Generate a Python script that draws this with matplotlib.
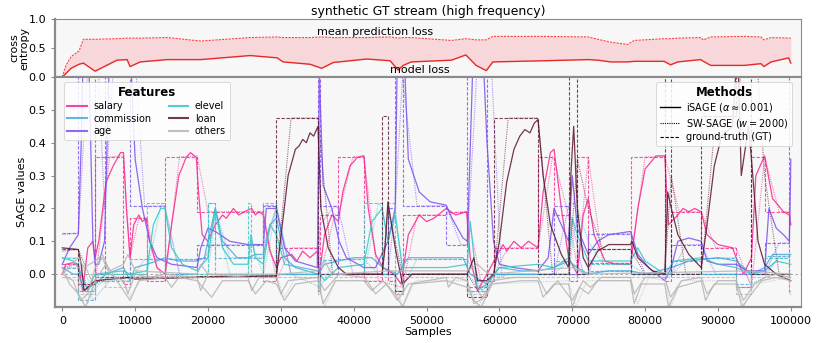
import matplotlib
matplotlib.use("Agg")
import matplotlib.pyplot as plt
from matplotlib.lines import Line2D

# ---------------- data ----------------
title = "synthetic GT stream (high frequency)"
features = ["salary", "commission", "age", "elevel", "loan", "others"]
feature_colors = {"salary": "#f7268f", "commission": "#4aa8dc", "age": "#7c4ff0",
                  "elevel": "#33c6c6", "loan": "#5a1530", "others": "#b5b5b5"}

# top panel losses
loss_x = [0, 500, 1200, 2300, 2900, 4500, 7500, 8900, 9300, 10700, 14400, 19000, 25800, 29500, 30300,
          34000, 35600, 37200, 41800, 45000, 46100, 46800, 47900, 53400, 55400, 56800, 58200, 59100,
          66100, 72200, 73500, 75300, 77600, 78500, 82600, 83500, 84500, 87600, 88000, 89000, 93600,
          95900, 96300, 97300, 99700, 100000]
mean_loss = [0.0, 0.2, 0.35, 0.45, 0.65, 0.65, 0.66, 0.67, 0.67, 0.67, 0.68, 0.62, 0.68, 0.69, 0.68,
             0.68, 0.69, 0.68, 0.68, 0.69, 0.67, 0.68, 0.68, 0.63, 0.66, 0.64, 0.64, 0.7, 0.7, 0.69,
             0.65, 0.6, 0.56, 0.63, 0.66, 0.66, 0.67, 0.68, 0.64, 0.69, 0.7, 0.69, 0.64, 0.68, 0.67, 0.67]
model_loss = [0.0, 0.06, 0.15, 0.22, 0.24, 0.1, 0.29, 0.3, 0.18, 0.26, 0.3, 0.3, 0.37, 0.33, 0.26,
              0.22, 0.15, 0.25, 0.31, 0.28, 0.12, 0.2, 0.26, 0.29, 0.38, 0.2, 0.11, 0.26, 0.28, 0.3,
              0.29, 0.26, 0.26, 0.27, 0.27, 0.21, 0.26, 0.3, 0.27, 0.2, 0.2, 0.23, 0.18, 0.26, 0.33, 0.24]

# ground truth: segment boundaries and per-segment values
gt_bounds = [0, 2200, 4500, 5800, 8400, 9300, 11600, 14100, 18500, 20000, 21000, 25500, 25900, 27600,
             29400, 35100, 35400, 37900, 41400, 43900, 44700, 45700, 46700, 52700, 55600, 58300, 59200,
             65300, 67500, 69500, 70700, 72200, 78000, 82700, 83600, 87700, 92500, 94600, 96400, 99800, 100000]
gt_salary = [0.03, -0.05, 0.357, 0.357, -0.03, 0.17, -0.02, 0.357, 0.19, 0.19, 0.19, 0.19, 0.19, -0.02,
             0.08, -0.05, 0.18, 0.357, -0.02, 0.0, -0.02, -0.06, 0.18, 0.19, -0.04, -0.02, 0.08, 0.357,
             0.18, -0.02, 0.357, 0.033, 0.357, -0.02, 0.19, 0.08, -0.04, 0.357, 0.19, -0.05]
gt_age = [0.125, 0.9, 0.0, 0.9, 0.9, 0.207, 0.207, 0.0, 0.09, 0.09, 0.088, 0.088, 0.088, 0.207, 0.0,
          0.9, 0.208, 0.0, 0.0, 0.0, 0.2, 0.9, 0.208, 0.09, 0.9, 0.0, 0.0, 0.0, 0.208, 0.0, 0.0, 0.123,
          0.0, 0.0, 0.09, 0.0, 0.0, 0.0, 0.095, 0.9]
gt_commission = [0.02, -0.08, -0.02, -0.02, -0.02, 0.045, 0.045, 0.045, 0.05, 0.215, 0.05, 0.05, 0.05,
                 0.21, 0.0, -0.05, 0.044, 0.045, 0.0, 0.0, 0.0, -0.05, 0.045, 0.045, -0.05, 0.0, 0.0, 0.0,
                 0.04, 0.0, 0.0, 0.01, 0.0, 0.0, 0.04, 0.05, -0.03, 0.0, 0.055, 0.0]
gt_elevel = [0.05, -0.05, 0.0, 0.0, 0.0, 0.0, 0.215, 0.0, 0.0, 0.215, 0.0, 0.215, 0.0, 0.215, 0.0,
             -0.05, 0.0, 0.0, 0.216, 0.0, 0.216, -0.05, 0.0, 0.0, -0.05, 0.0, 0.0, 0.0, 0.0, 0.216, 0.0,
             0.03, 0.0, 0.0, 0.0, 0.0, -0.04, 0.0, 0.05, 0.0]
gt_loan = [0.075, -0.03, -0.01, -0.01, -0.01, -0.01, -0.01, -0.01, -0.005, -0.005, -0.005, -0.005,
           -0.005, -0.005, 0.475, -0.02, 0.0, 0.0, 0.0, 0.48, 0.0, -0.05, 0.0, 0.0, -0.07, 0.0, 0.475,
           0.0, 0.0, 0.9, 0.0, 0.075, 0.0, 0.9, 0.0, 0.48, 0.9, 0.0, 0.0, 0.0]
gt_others = [-0.01, -0.06, -0.01, -0.04, -0.04, -0.01, -0.01, -0.01, -0.01, -0.01, -0.01, -0.01, -0.01,
             -0.01, -0.01, -0.06, -0.01, -0.01, -0.01, -0.01, -0.01, -0.06, -0.01, -0.01, -0.06, -0.01,
             -0.01, -0.01, -0.01, -0.01, -0.01, -0.01, -0.01, -0.01, -0.01, -0.01, -0.06, -0.01, -0.01, -0.06]

# iSAGE estimates (sample, value)
isage_salary = [(0, 0.0), (500, 0.03), (1500, 0.035), (2200, 0.03), (2800, -0.05), (3500, 0.08), (4200, 0.1),
                (4500, 0.05), (5000, 0.1), (6000, 0.28), (7000, 0.33), (8000, 0.37), (8400, 0.37), (8800, 0.2),
                (9300, 0.05), (9800, 0.15), (10500, 0.18), (11000, 0.16), (11500, 0.17), (12000, 0.1),
                (13000, 0.02), (14100, 0.0), (15000, 0.15), (16000, 0.3), (17000, 0.355), (17600, 0.37),
                (18400, 0.355), (18700, 0.25), (19200, 0.12), (20000, 0.1), (21000, 0.15), (22000, 0.18),
                (22500, 0.17), (23500, 0.2), (24200, 0.18), (25000, 0.19), (26000, 0.2), (26500, 0.18),
                (27000, 0.19), (27600, 0.18), (28500, 0.07), (29400, 0.02), (30000, 0.05), (31500, 0.06),
                (32200, 0.04), (33000, 0.07), (34000, 0.05), (35000, 0.07), (35300, 0.0), (36000, 0.12),
                (37000, 0.18), (37900, 0.16), (38500, 0.25), (39500, 0.33), (40500, 0.355), (41400, 0.36),
                (42000, 0.2), (43000, 0.06), (44000, 0.02), (45500, 0.0), (46500, -0.03), (47500, 0.12),
                (49000, 0.18), (50000, 0.16), (51000, 0.17), (52700, 0.2), (54000, 0.18), (55500, 0.19),
                (56000, 0.05), (57000, -0.05), (58300, 0.0), (59500, 0.05), (60500, 0.09), (61000, 0.07),
                (62000, 0.1), (63000, 0.08), (64000, 0.1), (65300, 0.08), (66000, 0.25), (67000, 0.37),
                (67500, 0.38), (68500, 0.2), (69500, 0.05), (70700, 0.0), (71500, 0.18), (72200, 0.23),
                (73000, 0.12), (74500, 0.04), (76000, 0.03), (78000, 0.03), (79000, 0.2), (80000, 0.32),
                (81500, 0.36), (82700, 0.36), (83200, 0.15), (84500, 0.18), (85200, 0.2), (86000, 0.19),
                (86800, 0.2), (87700, 0.19), (88500, 0.12), (90000, 0.09), (92000, 0.08), (92500, 0.05),
                (93500, 0.0), (94600, 0.05), (95200, 0.3), (96400, 0.36), (97500, 0.23), (99000, 0.19),
                (99800, 0.18), (100000, 0.15)]
isage_age = [(0, 0.03), (1000, 0.08), (2200, 0.12), (2600, 0.4), (3000, 0.8), (3600, 0.7), (4200, 0.1),
             (4500, 0.03), (5000, 0.03), (5800, 0.1), (6500, 0.7), (8400, 0.8), (9300, 0.7), (10000, 0.35),
             (11000, 0.2), (12000, 0.1), (13000, 0.05), (14000, 0.04), (15000, 0.03), (18500, 0.02),
             (19000, 0.08), (20000, 0.14), (21000, 0.13), (23000, 0.1), (25500, 0.09), (27600, 0.09),
             (28000, 0.2), (29400, 0.2), (30500, 0.08), (32000, 0.04), (35000, 0.02), (35300, 0.6),
             (35800, 0.27), (37000, 0.2), (38000, 0.1), (39000, 0.05), (41400, 0.02), (43000, 0.02),
             (44700, 0.1), (45700, 0.2), (46000, 0.7), (46700, 0.8), (47500, 0.35), (49000, 0.25),
             (50500, 0.22), (52700, 0.21), (53500, 0.17), (55000, 0.11), (55600, 0.1), (56300, 0.6),
             (57500, 0.8), (58300, 0.4), (59200, 0.1), (60000, 0.03), (62000, 0.02), (65300, 0.01),
             (66700, 0.05), (67500, 0.2), (69500, 0.1), (70000, 0.3), (70700, 0.14), (72200, 0.06),
             (73500, 0.1), (75000, 0.12), (78000, 0.13), (79000, 0.06), (80500, 0.02), (82700, -0.02),
             (83600, 0.02), (84500, 0.1), (86000, 0.11), (87700, 0.1), (88500, 0.04), (90000, 0.03),
             (92500, 0.03), (94000, 0.01), (96400, 0.01), (97000, 0.2), (98000, 0.14), (99000, 0.12),
             (99800, 0.1), (100000, 0.35)]
isage_commission = [(0, 0.02), (1500, 0.0), (2200, 0.0), (3000, -0.05), (4500, -0.03), (6000, 0.0),
                    (8400, 0.02), (9300, -0.02), (10000, 0.02), (11600, 0.03), (13000, 0.04), (14100, 0.05),
                    (16000, 0.04), (18500, 0.04), (19500, 0.05), (20500, 0.15), (21000, 0.2), (22000, 0.1),
                    (24000, 0.05), (25500, 0.05), (26500, 0.06), (27600, 0.06), (28500, 0.15), (29400, 0.17),
                    (30500, 0.05), (32000, 0.02), (35100, 0.0), (36000, 0.03), (37900, 0.04), (40000, 0.05),
                    (41400, 0.05), (42500, 0.05), (44000, 0.02), (46000, 0.0), (47500, 0.05), (50000, 0.05),
                    (52700, 0.05), (55000, 0.05), (56000, 0.0), (58300, -0.03), (60000, 0.02), (63000, 0.01),
                    (65300, 0.01), (67500, 0.02), (69500, 0.04), (70700, 0.02), (72200, 0.0), (75000, 0.01),
                    (78000, 0.01), (80000, 0.0), (83600, 0.02), (86000, 0.04), (88000, 0.045), (90000, 0.05),
                    (92500, 0.04), (94600, 0.0), (96400, 0.02), (97500, 0.06), (100000, 0.06)]
isage_elevel = [(0, 0.05), (1500, 0.04), (2200, 0.02), (3500, -0.05), (4500, 0.0), (8400, 0.01), (9300, 0.0),
                (11600, 0.01), (12500, 0.15), (13500, 0.2), (14100, 0.2), (15000, 0.08), (16500, 0.03),
                (18500, 0.01), (20000, 0.05), (21000, 0.2), (22000, 0.08), (23500, 0.03), (25500, 0.03),
                (25900, 0.12), (26500, 0.05), (27600, 0.03), (28500, 0.15), (29400, 0.12), (30500, 0.03),
                (35100, 0.01), (36000, -0.02), (37900, 0.02), (41400, 0.03), (42500, 0.16), (43900, 0.2),
                (44700, 0.1), (45700, 0.18), (46700, 0.02), (48000, 0.02), (52700, 0.02), (55600, 0.03),
                (56000, 0.16), (57000, -0.05), (58300, -0.03), (60000, 0.02), (65300, 0.03), (67500, 0.02),
                (69500, 0.05), (70000, 0.17), (70700, 0.12), (72200, 0.04), (78000, 0.04), (79000, 0.08),
                (80000, 0.04), (82700, 0.0), (84000, 0.04), (87700, 0.05), (90000, 0.03), (92500, 0.02),
                (94600, 0.0), (96400, 0.01), (98000, 0.04), (100000, 0.03)]
isage_loan = [(0, 0.08), (2200, 0.075), (2600, 0.03), (3000, -0.05), (4500, -0.02), (9300, -0.01),
              (10000, -0.015), (18500, -0.01), (29400, -0.005), (30200, 0.15), (31000, 0.3), (32000, 0.38),
              (32500, 0.39), (33000, 0.41), (33500, 0.4), (34000, 0.43), (34500, 0.42), (35100, 0.45),
              (35500, 0.2), (36500, 0.08), (37900, 0.02), (39000, 0.0), (43900, 0.0), (44300, 0.08),
              (44700, 0.22), (45700, 0.08), (46700, -0.03), (48000, 0.0), (55600, 0.0), (56500, 0.05),
              (57000, -0.02), (58300, -0.02), (59200, 0.0), (60000, 0.1), (61000, 0.28), (62000, 0.38),
              (62800, 0.42), (63500, 0.44), (64200, 0.43), (64800, 0.46), (65300, 0.47), (66000, 0.3),
              (67000, 0.15), (68500, 0.06), (69500, 0.02), (69800, 0.3), (70200, 0.45), (70700, 0.2),
              (71500, 0.05), (72200, 0.02), (73500, 0.07), (75000, 0.09), (78000, 0.09), (78200, 0.1),
              (79000, 0.05), (81000, 0.01), (82700, 0.0), (83100, 0.25), (83600, 0.2), (84500, 0.12),
              (86000, 0.06), (87700, 0.02), (88500, 0.15), (89500, 0.33), (90500, 0.42), (92000, 0.45),
              (92700, 0.7), (93200, 0.3), (94200, 0.45), (94600, 0.35), (95500, 0.1), (96400, 0.03),
              (98000, 0.0), (100000, -0.02)]
isage_others_a = [(0, 0.0), (1500, -0.02), (2500, -0.08), (3500, -0.06), (4500, 0.02), (5500, 0.05), (6500, 0.0),
                  (8400, -0.02), (9000, -0.06), (10000, 0.0), (12000, -0.01), (14000, 0.0), (18500, -0.01),
                  (19000, -0.05), (20000, 0.0), (25500, -0.01), (26000, -0.05), (27000, -0.01), (29400, -0.01),
                  (30000, -0.06), (31000, -0.02), (35000, -0.01), (36000, -0.05), (38000, 0.0), (41500, -0.01),
                  (43000, -0.06), (44500, -0.03), (46000, -0.08), (47500, -0.03), (52700, -0.01), (53000, -0.04),
                  (54000, -0.01), (55600, -0.02), (56500, -0.09), (58000, -0.07), (59000, -0.02), (62000, -0.01),
                  (65300, -0.01), (66500, -0.06), (68000, -0.02), (70000, -0.08), (71500, -0.02), (72500, -0.04),
                  (74000, -0.01), (78000, -0.01), (78500, -0.06), (80000, -0.01), (82700, -0.01), (83500, -0.07),
                  (85000, -0.02), (87700, -0.01), (88500, -0.06), (90000, -0.02), (92500, -0.02), (93500, -0.08),
                  (95000, -0.03), (96500, -0.01), (98000, 0.0), (100000, -0.01)]
isage_others_b = [(0, 0.02), (1000, -0.03), (2200, -0.06), (3200, -0.1), (4500, -0.02), (6000, 0.03), (8400, -0.05),
                  (9300, -0.08), (10500, -0.02), (14100, -0.01), (15000, -0.04), (16000, -0.01), (18500, -0.02),
                  (20500, -0.07), (22000, -0.02), (25500, -0.02), (26500, -0.06), (28000, -0.02), (29400, -0.03),
                  (30500, -0.08), (32000, -0.03), (35100, -0.02), (35800, -0.09), (37500, -0.02), (41400, -0.02),
                  (42500, -0.05), (44000, -0.02), (45700, -0.06), (46700, -0.1), (48000, -0.03), (52700, -0.02),
                  (55600, -0.04), (56500, -0.08), (57500, -0.1), (59000, -0.03), (63000, -0.02), (65300, -0.02),
                  (66000, -0.07), (67500, -0.03), (69500, -0.03), (70000, -0.1), (71000, -0.04), (72200, -0.06),
                  (73500, -0.02), (78000, -0.02), (78500, -0.09), (79500, -0.03), (82700, -0.03), (83200, -0.1),
                  (84500, -0.04), (87700, -0.02), (88300, -0.08), (89500, -0.03), (92500, -0.03), (93300, -0.1),
                  (94600, -0.06), (96000, -0.02), (98000, -0.01), (100000, -0.02)]
isage_others_c = [(0, 0.0), (2200, 0.05), (3000, 0.02), (4500, 0.04), (5500, 0.06), (6500, 0.01), (8400, 0.03),
                  (9000, 0.06), (10000, 0.01), (18500, 0.0), (19000, 0.03), (20000, 0.0), (30000, 0.0),
                  (35000, 0.01), (36000, 0.04), (37000, 0.0), (45000, 0.01), (55600, 0.01), (57000, 0.03),
                  (58500, 0.0), (70000, 0.02), (72000, 0.0), (94000, 0.01), (100000, 0.0)]

# SW-SAGE estimates (sample, value)
sw_salary = [(0, 0.02), (2200, 0.03), (3500, -0.04), (4500, -0.03), (6500, 0.357), (8400, 0.36), (9300, 0.05),
             (10500, 0.17), (11600, 0.17), (13000, 0.02), (14100, -0.02), (16100, 0.357), (18500, 0.36),
             (20000, 0.19), (27600, 0.19), (29400, -0.02), (31400, 0.08), (35100, 0.08), (35400, 0.0),
             (37400, 0.18), (37900, 0.18), (39900, 0.357), (41400, 0.36), (43400, -0.02), (46700, -0.04),
             (48700, 0.18), (52700, 0.18), (54700, 0.19), (55600, 0.19), (57600, -0.04), (59200, 0.0),
             (61200, 0.08), (65300, 0.08), (67300, 0.357), (67500, 0.35), (69500, 0.18), (70700, 0.02),
             (72200, 0.357), (74200, 0.033), (78000, 0.033), (80000, 0.357), (82700, 0.357), (84700, 0.19),
             (87700, 0.19), (89700, 0.08), (92500, 0.08), (94600, -0.04), (96400, 0.357), (98400, 0.19),
             (99800, 0.19), (100000, 0.15)]
sw_age = [(0, 0.12), (2200, 0.125), (4200, 0.9), (4500, 0.85), (5800, 0.2), (7800, 0.9), (9300, 0.9),
          (11300, 0.207), (14100, 0.207), (16100, 0.0), (18500, 0.0), (20500, 0.09), (27600, 0.088),
          (29400, 0.2), (31400, 0.0), (35100, 0.0), (35400, 0.15), (37400, 0.208), (37900, 0.2), (39900, 0.0),
          (44700, 0.0), (45700, 0.2), (46700, 0.6), (48700, 0.208), (52700, 0.208), (54700, 0.09),
          (55600, 0.09), (57600, 0.9), (58300, 0.9), (60300, 0.0), (67500, 0.0), (69500, 0.208), (71500, 0.0),
          (72200, 0.0), (74200, 0.123), (78000, 0.123), (80000, 0.0), (83600, 0.0), (85600, 0.09),
          (87700, 0.09), (89700, 0.0), (96400, 0.0), (98400, 0.095), (99800, 0.095), (100000, 0.3)]
sw_commission = [(0, 0.02), (2200, 0.02), (4200, -0.08), (6500, -0.02), (9300, -0.02), (11300, 0.045),
                 (18500, 0.045), (20000, 0.05), (21000, 0.2), (23000, 0.05), (27600, 0.05), (29400, 0.21),
                 (31400, 0.0), (35400, -0.04), (37400, 0.044), (41400, 0.045), (43400, 0.0), (45700, 0.0),
                 (46700, -0.04), (48700, 0.045), (55600, 0.045), (57600, -0.05), (59200, -0.01), (61200, 0.0),
                 (67500, 0.0), (69500, 0.04), (71500, 0.0), (74200, 0.01), (78000, 0.01), (80000, 0.0),
                 (83600, 0.0), (85600, 0.04), (89700, 0.05), (92500, 0.05), (94600, -0.03), (96400, -0.01),
                 (98400, 0.055), (100000, 0.055)]
sw_elevel = [(0, 0.05), (2200, 0.05), (4200, -0.05), (6500, 0.0), (11600, 0.0), (13600, 0.215), (14100, 0.2),
             (16100, 0.0), (20000, 0.0), (21000, 0.18), (23000, 0.0), (25500, 0.0), (25900, 0.1), (27600, 0.0),
             (29400, 0.2), (31400, 0.0), (41400, 0.0), (43400, 0.216), (43900, 0.2), (44700, 0.1), (45700, 0.2),
             (46700, 0.0), (55600, 0.0), (57600, -0.05), (59200, -0.02), (61200, 0.0), (69500, 0.0),
             (70700, 0.2), (72200, 0.1), (74200, 0.03), (78000, 0.03), (80000, 0.0), (96400, 0.0),
             (98400, 0.05), (100000, 0.05)]
sw_loan = [(0, 0.07), (2200, 0.075), (4200, -0.03), (6500, -0.01), (29400, -0.005), (31400, 0.475),
           (35100, 0.475), (37100, 0.0), (43900, 0.0), (44700, 0.2), (46700, 0.0), (55600, 0.0), (57600, -0.07),
           (59200, -0.02), (61200, 0.475), (65300, 0.475), (67300, 0.0), (69500, 0.0), (70700, 0.35),
           (72200, 0.2), (74200, 0.075), (78000, 0.075), (80000, 0.0), (82700, 0.0), (83600, 0.3), (85600, 0.0),
           (87700, 0.0), (89700, 0.48), (92500, 0.48), (94600, 0.9), (96400, 0.3), (98400, 0.0), (100000, 0.0)]
sw_others = [(0, -0.01), (2200, -0.02), (3500, -0.09), (4500, -0.03), (8400, -0.01), (9300, -0.07),
             (11000, -0.01), (29400, -0.01), (30500, -0.07), (32000, -0.01), (35100, -0.01), (36000, -0.1),
             (37500, -0.02), (45700, -0.02), (46700, -0.1), (48500, -0.02), (55600, -0.02), (57000, -0.1),
             (59000, -0.03), (69500, -0.02), (70500, -0.1), (72000, -0.02), (78000, -0.02), (79000, -0.09),
             (80500, -0.01), (82700, -0.02), (83500, -0.1), (85000, -0.02), (92500, -0.02), (93500, -0.1),
             (95000, -0.03), (100000, -0.01)]

gt_series = {"salary": gt_salary, "commission": gt_commission, "age": gt_age,
             "elevel": gt_elevel, "loan": gt_loan, "others": gt_others}
isage_series = {"salary": [isage_salary], "commission": [isage_commission], "age": [isage_age],
                "elevel": [isage_elevel], "loan": [isage_loan],
                "others": [isage_others_a, isage_others_b, isage_others_c]}
sw_series = {"salary": sw_salary, "commission": sw_commission, "age": sw_age,
             "elevel": sw_elevel, "loan": sw_loan, "others": sw_others}

# ---------------- figure ----------------
W, H = 822, 343
fig = plt.figure(figsize=(W / 100, H / 100), dpi=100)
left, right = 55 / W, 801 / W
ax_top = fig.add_axes([left, 1 - 77 / H, right - left, (77 - 19) / H])
ax = fig.add_axes([left, 1 - 307 / H, right - left, (307 - 77) / H])

bg = "#f7f7f7"
spine_col = "#8a8a8a"
for a in (ax_top, ax):
    a.set_facecolor(bg)
    for s in a.spines.values():
        s.set_color(spine_col)
        s.set_linewidth(0.8)
    a.spines["left"].set_linewidth(1.6)
    a.spines["bottom"].set_linewidth(1.6)
    a.tick_params(labelsize=8, length=3, color=spine_col)

xlim = (-1000, 101400)

# top panel
ax_top.fill_between(loss_x, model_loss, mean_loss, color="#f8d0d2", alpha=0.8, lw=0)
ax_top.plot(loss_x, mean_loss, color="#ff4040", lw=0.8, ls=(0, (2, 1)))
ax_top.plot(loss_x, model_loss, color="#e82828", lw=1.0)
ax_top.set_xlim(*xlim)
ax_top.set_ylim(0, 1)
ax_top.set_yticks([0.0, 0.5, 1.0])
ax_top.set_xticks([])
ax_top.set_ylabel("cross\nentropy", fontsize=8, linespacing=1.0)
ax_top.yaxis.set_label_coords(-0.034, 0.5)
ax_top.text(42900, 0.77, "mean prediction loss", ha="center", va="center", fontsize=8)
ax_top.text(49100, 0.12, "model loss", ha="center", va="center", fontsize=8)
ax_top.set_title(title, fontsize=9, pad=3)

# bottom panel
ax.axhline(0, color="#999999", lw=0.6, ls=(0, (3, 3)), zorder=1)
for f in features:
    c = feature_colors[f]
    gt = gt_series[f]
    ax.step(gt_bounds, gt + [gt[-1]], where="post", color=c, lw=0.8, ls=(0, (3, 1.5)), alpha=0.8)
    sx = [p[0] for p in sw_series[f]]
    sy = [p[1] for p in sw_series[f]]
    ax.plot(sx, sy, color=c, lw=0.8, ls=(0, (1, 1)), alpha=0.6)
    for series in isage_series[f]:
        ix = [p[0] for p in series]
        iy = [p[1] for p in series]
        ax.plot(ix, iy, color=c, lw=0.9, alpha=0.85)

ax.set_xlim(*xlim)
ax.set_ylim(-0.1, 0.6)
ax.set_yticks([0.0, 0.1, 0.2, 0.3, 0.4, 0.5])
ax.set_xticks(list(range(0, 100001, 10000)))
ax.set_xticklabels([str(v) for v in range(0, 100001, 10000)])
ax.set_xlabel("Samples", fontsize=8, labelpad=1)
ax.set_ylabel("SAGE values", fontsize=8)
ax.yaxis.set_label_coords(-0.037, 0.5)

feat_handles = [Line2D([0], [0], color=feature_colors[f], lw=1.5, alpha=0.85) for f in features]
leg1 = ax.legend(feat_handles, features, ncol=2, loc="upper left", bbox_to_anchor=(0.005, 1.0),
                 fontsize=7, title="Features", title_fontproperties={"weight": "bold", "size": 8.5},
                 framealpha=0.85, borderpad=0.4, labelspacing=0.25, handlelength=2.0,
                 columnspacing=1.8, handletextpad=0.65)
leg1.get_frame().set_linewidth(0.6)
ax.add_artist(leg1)
meth_handles = [Line2D([0], [0], color="black", lw=1.0),
                Line2D([0], [0], color="black", lw=0.8, ls=(0, (1, 1))),
                Line2D([0], [0], color="black", lw=0.8, ls=(0, (3, 1.5)))]
meth_labels = [r"iSAGE ($\alpha \approx 0.001$)", r"SW-SAGE ($w = 2000$)", "ground-truth (GT)"]
leg2 = ax.legend(meth_handles, meth_labels, loc="upper right", bbox_to_anchor=(0.995, 1.0),
                 fontsize=7, title="Methods", title_fontproperties={"weight": "bold", "size": 8.5},
                 framealpha=0.85, borderpad=0.4, labelspacing=0.25, handlelength=2.0,
                 handletextpad=0.65)
leg2.get_frame().set_linewidth(0.6)

fig.savefig("out.png", dpi=100)
